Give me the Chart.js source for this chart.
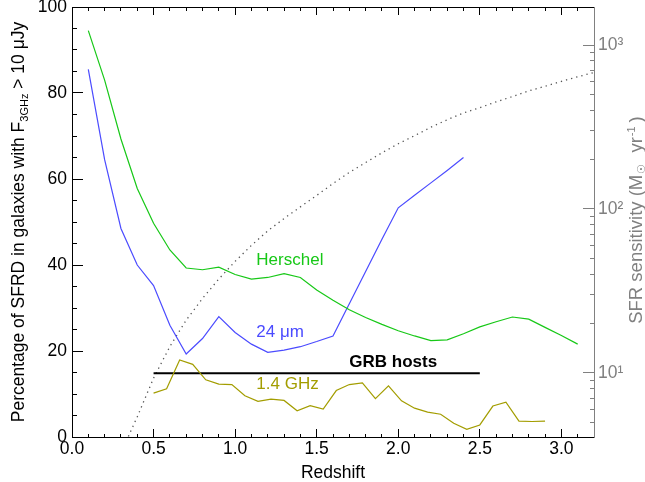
<!DOCTYPE html>
<html>
<head>
<meta charset="utf-8">
<script src="https://cdn.jsdelivr.net/npm/chart.js@4.4.0/dist/chart.umd.min.js"></script>
<style>
  html, body { margin: 0; padding: 0; background: #fff; }
  #wrap { width: 645px; height: 482px; }
</style>
</head>
<body>
<div id="wrap"><canvas id="sfrdChart"></canvas></div>
<script>
// Herschel and 24 micron curves share this redshift grid
const zGrid = [0.1, 0.2, 0.3, 0.4, 0.5, 0.6, 0.7, 0.8, 0.9, 1.0, 1.1, 1.2, 1.3, 1.4, 1.5, 1.6,
               1.7, 1.8, 1.9, 2.0, 2.1, 2.2, 2.3, 2.4, 2.5, 2.6, 2.7, 2.8, 2.9, 3.0, 3.1];
const herschel = [94.5, 83.0, 69.3, 57.8, 49.7, 43.5, 39.3, 38.9, 39.5, 37.8, 36.7, 37.1, 38.0, 37.1, 34.2, 31.8,
                  29.6, 27.8, 26.2, 24.7, 23.5, 22.4, 22.6, 24.0, 25.6, 26.8, 27.9, 27.4, 25.5, 23.6, 21.6];
const mid24 = [85.5, 64.5, 48.5, 40.0, 35.2, 26.0, 19.3, 22.9, 28.0, 24.3, 21.6, 19.7, 20.2, 21.0, 22.2, 23.5,
               31.0, 38.5, 46.0, 53.3, 56.2, 59.1, 62.0, 65.0];

// 1.4 GHz curve
const zRadio = [0.50, 0.58, 0.66, 0.74, 0.82, 0.90, 0.98, 1.06, 1.14, 1.22, 1.30, 1.38, 1.46, 1.54, 1.62, 1.70,
                1.78, 1.86, 1.94, 2.02, 2.10, 2.18, 2.26, 2.34, 2.42, 2.50, 2.58, 2.66, 2.74, 2.82, 2.90];
const radio14 = [10.2, 11.2, 17.9, 16.9, 13.3, 12.3, 12.2, 9.6, 8.3, 8.8, 8.5, 6.1, 7.3, 6.5, 10.8, 12.2,
                 12.6, 8.9, 11.9, 8.4, 6.7, 5.8, 5.3, 3.2, 1.8, 2.8, 7.2, 8.1, 3.7, 3.6, 3.7];

// GRB hosts bar
const grbZ = [0.5, 2.5];
const grbLevel = [14.8, 14.8];

// SFR sensitivity (right log axis)
const zSens = [0.3, 0.35, 0.4, 0.5, 0.6, 0.7, 0.8, 0.9, 1.0, 1.1, 1.2, 1.3, 1.4, 1.5, 1.6, 1.7,
               1.8, 1.9, 2.0, 2.1, 2.2, 2.3, 2.4, 2.5, 2.6, 2.7, 2.8, 2.9, 3.0, 3.1, 3.2];
const sfrSens = [3.1, 4.2, 5.4, 9.3, 14.5, 21.0, 28.5, 37.4, 47.9, 60.0, 73.5, 87.5, 103, 121, 143, 167,
                 192, 220, 250, 280, 315, 350, 385, 415, 450, 485, 525, 560, 600, 640, 680];

// labelled ticks and all tick marks
const xTicks = [0, 0.5, 1.0, 1.5, 2.0, 2.5, 3.0];
const xTickMarks = [0, 0.1, 0.2, 0.3, 0.4, 0.5, 0.6, 0.7, 0.8, 0.9, 1.0, 1.1, 1.2, 1.3, 1.4, 1.5, 1.6,
                    1.7, 1.8, 1.9, 2.0, 2.1, 2.2, 2.3, 2.4, 2.5, 2.6, 2.7, 2.8, 2.9, 3.0, 3.1, 3.2];
const yTicks = [0, 20, 40, 60, 80, 100];
const yTickMarks = [0, 5, 10, 15, 20, 25, 30, 35, 40, 45, 50, 55, 60, 65, 70, 75, 80, 85, 90, 95, 100];
const sensTicks = [10, 100, 1000];
const sensTickMarks = [5, 6, 7, 8, 9, 10, 20, 30, 40, 50, 60, 70, 80, 90,
                       100, 200, 300, 400, 500, 600, 700, 800, 900, 1000];

const X_MAX = 3.2, SENS_MIN = 4.07, SENS_MAX = 1705;
const FONT = "'Liberation Sans', Arial, Helvetica, sans-serif";
const GREEN = '#17c817', BLUE = '#4b4bff', OLIVE = '#a39d00', GREY = '#808080';

const curveLabels = [
    { text: 'Herschel', z: 1.13, v: 41.2, color: GREEN, bold: false },
    { text: '24 \u03bcm', z: 1.13, v: 24.4, color: BLUE, bold: false },
    { text: '1.4 GHz', z: 1.13, v: 12.3, color: OLIVE, bold: false },
    { text: 'GRB hosts', z: 1.70, v: 17.4, color: '#000', bold: true }
];

function pts(xs, ys) {
    return ys.map((y, i) => ({ x: xs[i], y: y }));
}

function drawRich(ctx, parts, x, y, rot) {
    ctx.save();
    ctx.translate(x, y);
    ctx.rotate(rot);
    let total = 0;
    parts.forEach(p => {
        ctx.font = p.size + 'px ' + FONT;
        p.w = ctx.measureText(p.t).width + (p.gap || 0);
        total += p.w;
    });
    let cx = -total / 2;
    ctx.textAlign = 'left';
    ctx.textBaseline = 'alphabetic';
    parts.forEach(p => {
        ctx.font = p.size + 'px ' + FONT;
        ctx.fillStyle = p.color;
        ctx.fillText(p.t, cx, p.dy || 0);
        cx += p.w;
    });
    ctx.restore();
}

// axis titles and curve labels
const decorations = {
    id: 'decorations',
    afterDraw(chart) {
        const c = chart.ctx;
        const sx = chart.scales.x, sy = chart.scales.y;
        const left = sx.getPixelForValue(0), right = sx.getPixelForValue(X_MAX);
        const top = sy.getPixelForValue(100), bottom = sy.getPixelForValue(0);
        c.save();
        curveLabels.forEach(l => {
            c.font = (l.bold ? 'bold ' : '') + '17px ' + FONT;
            c.fillStyle = l.color;
            c.textAlign = 'left';
            c.textBaseline = 'middle';
            c.fillText(l.text, sx.getPixelForValue(l.z), sy.getPixelForValue(l.v));
        });

        c.font = '17.5px ' + FONT;
        c.fillStyle = '#000';
        c.textAlign = 'center';
        c.textBaseline = 'alphabetic';
        c.fillText('Redshift', (left + right) / 2, 478);

        drawRich(c, [
            { t: 'Percentage of SFRD in galaxies with F', size: 17.5, color: '#000' },
            { t: '3GHz', size: 11, color: '#000', dy: 4 },
            { t: ' > 10 \u03bcJy', size: 17.5, color: '#000' }
        ], 23.5, (top + bottom) / 2, -Math.PI / 2);

        drawRich(c, [
            { t: 'SFR sensitivity (M', size: 18.5, color: GREY, gap: 1 },
            { t: '\u2609', size: 11, color: GREY, dy: 3, gap: 6 },
            { t: ' yr', size: 18.5, color: GREY, gap: 1 },
            { t: '-1', size: 11, color: GREY, dy: -7, gap: 4 },
            { t: ')', size: 18.5, color: GREY }
        ], 641.5, 220, -Math.PI / 2);
        c.restore();
    }
};

// inward tick marks: negative tick length, minors shortened with a dash
function inwardGrid(color, len, isMajor, minorDash) {
    return {
        display: true,
        drawOnChartArea: false,
        drawTicks: true,
        tickLength: -len,
        tickWidth: 1,
        tickColor: color,
        tickBorderDash: c => (c.tick && isMajor(c.tick.value)) ? [] : minorDash
    };
}
const isMajorX = v => xTicks.includes(v);
const isMajorY = v => yTicks.includes(v);
const isMajorS = v => sensTicks.includes(v);

const ctx = document.getElementById('sfrdChart').getContext('2d');
const sfrdChart = new Chart(ctx, {
    type: 'line',
    data: {
        datasets: [
            { label: 'Herschel', data: pts(zGrid, herschel), borderColor: GREEN, borderWidth: 1.2, yAxisID: 'y' },
            { label: '24 um', data: pts(zGrid, mid24), borderColor: BLUE, borderWidth: 1.2, yAxisID: 'y' },
            { label: '1.4 GHz', data: pts(zRadio, radio14), borderColor: OLIVE, borderWidth: 1.2, yAxisID: 'y' },
            { label: 'GRB hosts', data: pts(grbZ, grbLevel), borderColor: '#000', borderWidth: 2, yAxisID: 'y' },
            { label: 'SFR sensitivity', data: pts(zSens, sfrSens), borderColor: '#555', borderWidth: 1.3,
              borderDash: [1.3, 4], yAxisID: 'y2' }
        ]
    },
    options: {
        responsive: true,
        maintainAspectRatio: false,
        animation: false,
        events: [],
        layout: { padding: { top: 7, left: 0, right: 0, bottom: 0 } },
        elements: { point: { radius: 0 } },
        plugins: { legend: { display: false }, tooltip: { enabled: false } },
        scales: {
            x: {
                type: 'linear', position: 'bottom', min: 0, max: X_MAX,
                grid: inwardGrid('#000', 8, isMajorX, [4, 100]),
                border: { display: true, color: '#000', width: 1 },
                ticks: { color: '#000', font: { size: 17.5, family: FONT }, padding: 10,
                         autoSkip: false, maxRotation: 0, minRotation: 0,
                         callback: v => isMajorX(v) ? v.toFixed(1) : '' },
                afterBuildTicks: s => { s.ticks = xTickMarks.map(v => ({ value: v })); },
                afterFit: s => { s.height = 45; s.paddingLeft = 0; s.paddingRight = 0; }
            },
            xTop: {
                type: 'linear', position: 'top', min: 0, max: X_MAX,
                grid: inwardGrid('#000', 8, isMajorX, [0, 4, 4, 100]),
                border: { display: true, color: '#000', width: 1 },
                ticks: { display: false, autoSkip: false, maxRotation: 0, minRotation: 0 },
                afterBuildTicks: s => { s.ticks = xTickMarks.map(v => ({ value: v })); },
                afterFit: s => { s.height = 0; s.paddingLeft = 0; s.paddingRight = 0; }
            },
            y: {
                type: 'linear', position: 'left', min: 0, max: 100,
                grid: inwardGrid('#000', 11, isMajorY, [0, 6, 5, 100]),
                border: { display: true, color: '#000', width: 1 },
                ticks: { color: '#000', font: { size: 17.5, family: FONT }, padding: 16, autoSkip: false,
                         callback: v => isMajorY(v) ? String(v) : '' },
                afterBuildTicks: s => { s.ticks = yTickMarks.map(v => ({ value: v })); },
                afterFit: s => { s.width = 72; s.paddingTop = 0; s.paddingBottom = 0; }
            },
            y2: {
                type: 'logarithmic', position: 'right', min: SENS_MIN, max: SENS_MAX,
                grid: inwardGrid(GREY, 11, isMajorS, [5, 100]),
                border: { display: true, color: GREY, width: 1 },
                ticks: { color: GREY, font: { size: 17.5, family: FONT }, padding: 15, autoSkip: false,
                         callback: v => ({ 10: '10\u00b9', 100: '10\u00b2', 1000: '10\u00b3' })[v] || '' },
                afterBuildTicks: s => { s.ticks = sensTickMarks.map(v => ({ value: v })); },
                afterFit: s => { s.width = 51; s.paddingTop = 0; s.paddingBottom = 0; }
            }
        }
    },
    plugins: [decorations]
});
</script>
</body>
</html>
